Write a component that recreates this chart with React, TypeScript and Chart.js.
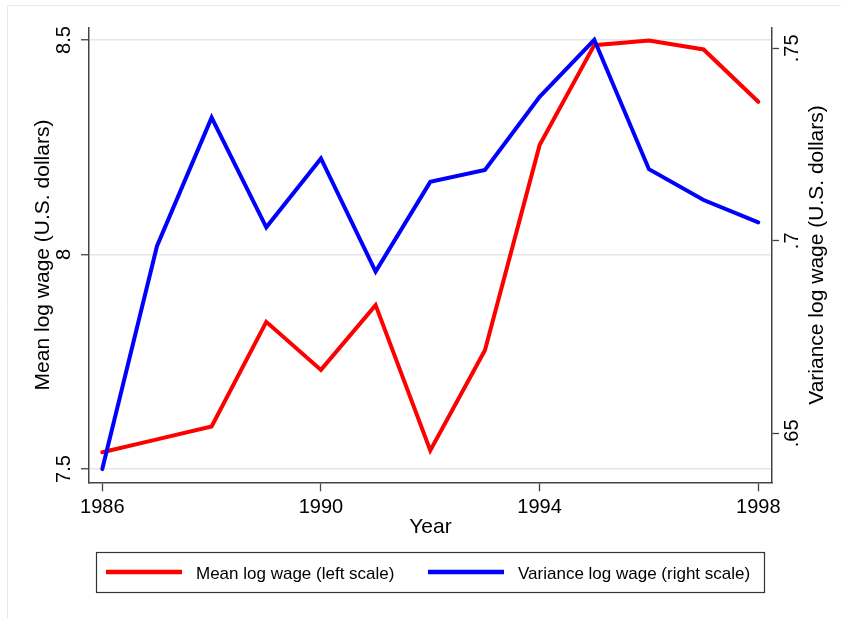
import React, { useEffect, useRef } from "react";
import { Chart, registerables } from "chart.js";

Chart.register(...registerables);

const years = [1986, 1987, 1988, 1989, 1990, 1991, 1992, 1993, 1994, 1995, 1996, 1997, 1998];
const meanLogWage = [7.539, 7.569, 7.599, 7.843, 7.731, 7.882, 7.543, 7.777, 8.255, 8.488, 8.499, 8.478, 8.356];
const varianceLogWage = [0.6407, 0.6986, 0.732, 0.7035, 0.7214, 0.692, 0.7153, 0.7184, 0.7374, 0.7522, 0.7186, 0.7106, 0.7048];

const xTicks = [1986, 1990, 1994, 1998];
const leftTicks = [7.5, 8, 8.5];
const leftTickLabels = ["7.5", "8", "8.5"];
const rightTicks = [0.65, 0.7, 0.75];
const rightTickLabels = [".65", ".7", ".75"];

const seriesLabels = ["Mean log wage (left scale)", "Variance log wage (right scale)"];
const seriesColors = ["#ff0000", "#0000ff"];
const xTitle = "Year";
const leftTitle = "Mean log wage (U.S. dollars)";
const rightTitle = "Variance log wage (U.S. dollars)";

const FONT = '"Liberation Sans", Arial, Helvetica, sans-serif';
const W = 841;
const H = 618;

const stataPlugin = {
  id: "stataText",
  beforeDraw(chart: any) {
    const ctx = chart.ctx;
    ctx.save();
    ctx.fillStyle = "#ffffff";
    ctx.fillRect(0, 0, W, H);
    ctx.strokeStyle = "#e8e8e8";
    ctx.lineWidth = 1;
    ctx.beginPath();
    ctx.moveTo(7.5, H);
    ctx.lineTo(7.5, 5.5);
    ctx.lineTo(W, 5.5);
    ctx.stroke();
    ctx.restore();
  },
  afterDraw(chart: any) {
    const ctx = chart.ctx;
    const xs = chart.scales.x;
    const yl = chart.scales.y;
    const yr = chart.scales.y1;
    const area = chart.chartArea;
    ctx.save();
    ctx.fillStyle = "#000000";

    ctx.font = `20px ${FONT}`;
    ctx.textAlign = "center";
    ctx.textBaseline = "alphabetic";
    leftTicks.forEach((v, i) => {
      const y = yl.getPixelForValue(v);
      ctx.save();
      ctx.translate(70, y);
      ctx.rotate(-Math.PI / 2);
      ctx.fillText(leftTickLabels[i], 0, 0);
      ctx.restore();
    });
    rightTicks.forEach((v, i) => {
      const y = yr.getPixelForValue(v);
      ctx.save();
      ctx.translate(798, y);
      ctx.rotate(-Math.PI / 2);
      ctx.fillText(rightTickLabels[i], 0, 0);
      ctx.restore();
    });
    xTicks.forEach((v) => {
      const x = xs.getPixelForValue(v);
      ctx.fillText(String(v), x, 513);
    });

    ctx.font = `21px ${FONT}`;
    const cy = (area.top + area.bottom) / 2;
    ctx.fillText(xTitle, (area.left + area.right) / 2, 533);
    ctx.save();
    ctx.translate(49, cy);
    ctx.rotate(-Math.PI / 2);
    ctx.fillText(leftTitle, 0, 0);
    ctx.restore();
    ctx.save();
    ctx.translate(823, cy);
    ctx.rotate(-Math.PI / 2);
    ctx.fillText(rightTitle, 0, 0);
    ctx.restore();

    ctx.strokeStyle = "#333333";
    ctx.lineWidth = 1.2;
    ctx.strokeRect(96.5, 552.5, 668, 40);
    const items = [
      { x0: 106, x1: 182, tx: 196 },
      { x0: 428, x1: 504, tx: 518 },
    ];
    ctx.font = `17px ${FONT}`;
    ctx.textAlign = "left";
    items.forEach((it, i) => {
      ctx.strokeStyle = chart.data.datasets[i].borderColor;
      ctx.lineWidth = 4.5;
      ctx.lineCap = "butt";
      ctx.beginPath();
      ctx.moveTo(it.x0, 572);
      ctx.lineTo(it.x1, 572);
      ctx.stroke();
      ctx.fillStyle = "#000000";
      ctx.fillText(chart.data.datasets[i].label, it.tx, 579);
    });
    ctx.restore();
  },
};

export default function App() {
  const ref = useRef<HTMLCanvasElement | null>(null);

  useEffect(() => {
    if (!ref.current) return;
    const axisColor = "#444444";
    const chart = new Chart(ref.current, {
      type: "line",
      data: {
        datasets: [
          {
            label: seriesLabels[0],
            data: years.map((yr, i) => ({ x: yr, y: meanLogWage[i] })),
            borderColor: seriesColors[0],
            backgroundColor: seriesColors[0],
            borderWidth: 4,
            pointRadius: 0,
            tension: 0,
            borderCapStyle: "round",
            borderJoinStyle: "miter",
            yAxisID: "y",
            order: 2,
          },
          {
            label: seriesLabels[1],
            data: years.map((yr, i) => ({ x: yr, y: varianceLogWage[i] })),
            borderColor: seriesColors[1],
            backgroundColor: seriesColors[1],
            borderWidth: 4,
            pointRadius: 0,
            tension: 0,
            borderCapStyle: "round",
            borderJoinStyle: "miter",
            yAxisID: "y1",
            order: 1,
          },
        ],
      },
      options: {
        animation: false,
        responsive: false,
        devicePixelRatio: 1,
        layout: { padding: { top: 27.7, left: 0, right: 0, bottom: 0 } },
        plugins: {
          legend: { display: false },
          tooltip: { enabled: false },
          title: { display: false },
        },
        scales: {
          x: {
            type: "linear",
            min: 1985.757,
            max: 1998.251,
            afterBuildTicks: (s: any) => {
              s.ticks = xTicks.map((v) => ({ value: v }));
            },
            afterFit: (s: any) => {
              s.height = H - 482.3;
            },
            ticks: { display: false },
            grid: {
              drawOnChartArea: false,
              drawTicks: true,
              tickLength: 9,
              tickColor: axisColor,
              tickWidth: 1.3,
            },
            border: { display: true, color: axisColor, width: 1.5 },
          },
          y: {
            type: "linear",
            position: "left",
            min: 7.469,
            max: 8.5287,
            afterBuildTicks: (s: any) => {
              s.ticks = leftTicks.map((v) => ({ value: v }));
            },
            afterFit: (s: any) => {
              s.width = 89;
            },
            ticks: { display: false },
            grid: {
              drawOnChartArea: true,
              color: "#e6e6e6",
              lineWidth: 1.5,
              drawTicks: true,
              tickLength: 8,
              tickColor: axisColor,
              tickWidth: 1.3,
            },
            border: { display: true, color: axisColor, width: 1.5 },
          },
          y1: {
            type: "linear",
            position: "right",
            min: 0.63727,
            max: 0.75535,
            afterBuildTicks: (s: any) => {
              s.ticks = rightTicks.map((v) => ({ value: v }));
            },
            afterFit: (s: any) => {
              s.width = W - 772;
            },
            ticks: { display: false },
            grid: {
              drawOnChartArea: false,
              drawTicks: true,
              tickLength: 7,
              tickColor: axisColor,
              tickWidth: 1.3,
            },
            border: { display: true, color: axisColor, width: 1.5 },
          },
        },
      },
      plugins: [stataPlugin],
    } as any);
    return () => chart.destroy();
  }, []);

  return (
    <div style={{ position: "absolute", left: 0, top: 0, width: W, height: H, background: "#fff" }}>
      <canvas ref={ref} width={W} height={H} style={{ display: "block", width: W, height: H }} />
    </div>
  );
}
